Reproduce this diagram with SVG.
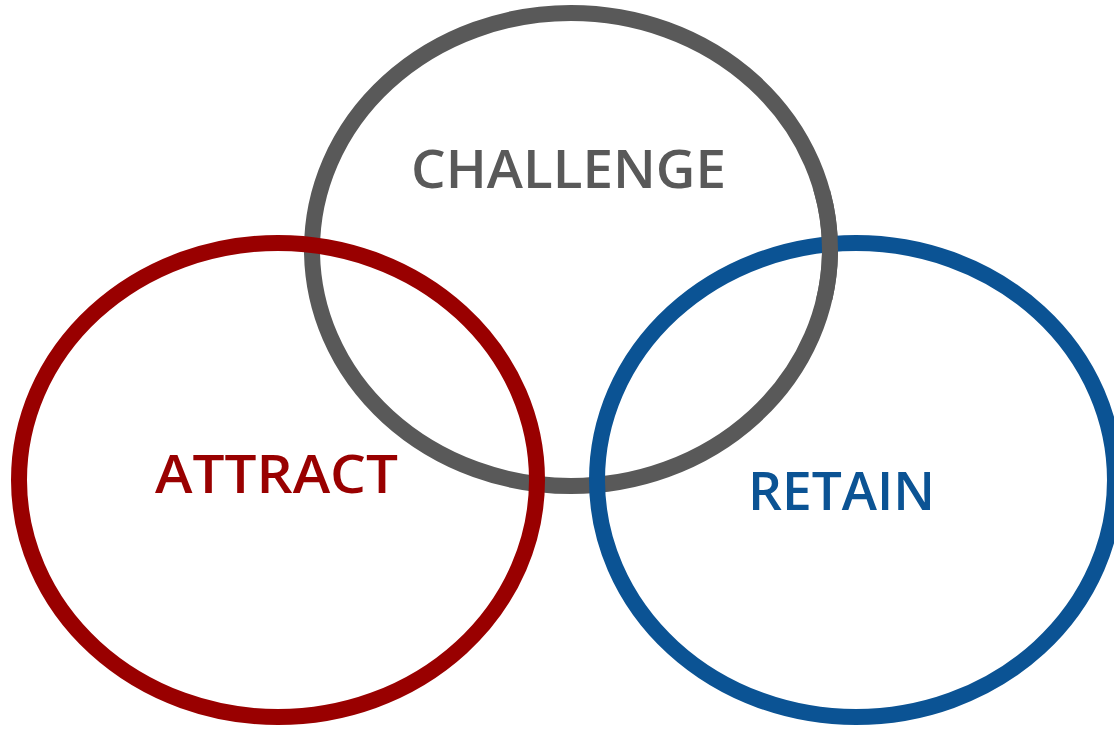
<svg xmlns="http://www.w3.org/2000/svg" width="1114" height="730" viewBox="0 0 1114 730">
  <style>
    .ring { fill: none; stroke-width: 16; }
    .label { font-family: "Open Sans", "Liberation Sans", sans-serif; font-weight: 600; font-size: 52px; }
    .gray { stroke: #595959; }
    .red { stroke: #990000; }
    .blue { stroke: #0b5394; }
  </style>
  <defs>
    <ellipse id="ring-challenge" cx="571" cy="249.5" rx="259" ry="236.5"/>
    <clipPath id="clip-over-blue">
      <rect x="800" y="190" width="60" height="110"/>
    </clipPath>
  </defs>
  <rect width="1114" height="730" fill="#ffffff"/>

  <g id="challenge">
    <use href="#ring-challenge" class="ring gray"/>
    <text class="label" x="411" y="188" fill="#595959" textLength="315" lengthAdjust="spacingAndGlyphs">CHALLENGE</text>
  </g>

  <g id="attract">
    <ellipse class="ring red" cx="278" cy="480" rx="259" ry="237"/>
    <text class="label" x="155" y="493" fill="#990000" textLength="243" lengthAdjust="spacingAndGlyphs">ATTRACT</text>
  </g>

  <g id="retain">
    <ellipse class="ring blue" cx="856" cy="480" rx="259" ry="237"/>
    <text class="label" x="748" y="510" fill="#0b5394" textLength="187" lengthAdjust="spacingAndGlyphs">RETAIN</text>
  </g>

  <!-- challenge ring passes over the retain ring at the upper crossing -->
  <g id="challenge-overlap">
    <use href="#ring-challenge" class="ring gray" clip-path="url(#clip-over-blue)"/>
  </g>
</svg>
